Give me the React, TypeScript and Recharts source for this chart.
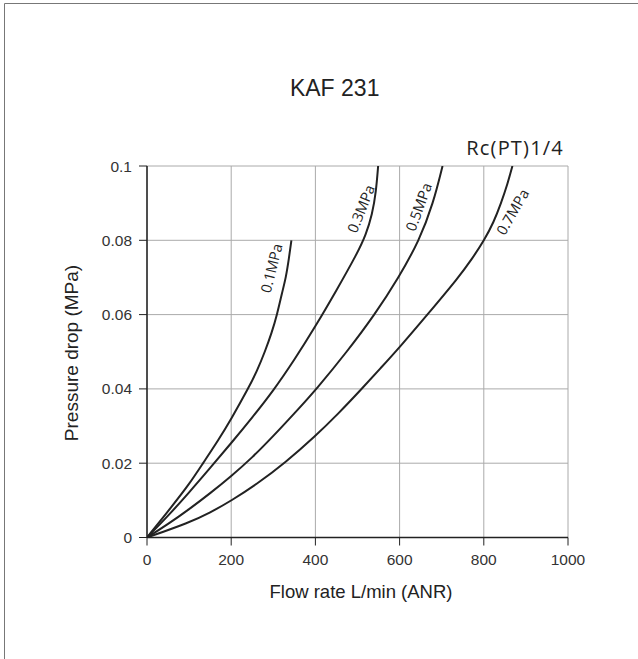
import React from 'react';
import { LineChart, Line, XAxis, YAxis, CartesianGrid, ReferenceDot } from 'recharts';

// Flow rate L/min (ANR) vs pressure drop (MPa), one curve per supply pressure
const flow01 = [0, 60, 100, 133, 170, 200, 240, 262, 280, 296, 309, 321, 330, 337, 343];
const drop01 = [0, 0.0085, 0.0143, 0.02, 0.0263, 0.0319, 0.04, 0.045, 0.05, 0.055, 0.06, 0.066, 0.07, 0.075, 0.08];

const flow03 = [0, 50, 100, 150, 200, 250, 300, 350, 400, 450, 500, 520, 535, 544, 549];
const drop03 = [0, 0.0058, 0.0121, 0.0187, 0.0254, 0.0323, 0.0395, 0.0478, 0.0568, 0.0665, 0.0766, 0.0815, 0.087, 0.093, 0.1];

const flow05 = [0, 50, 100, 150, 200, 250, 300, 350, 403, 475, 541, 598, 647, 680, 702];
const drop05 = [0, 0.0036, 0.0076, 0.0119, 0.0165, 0.0215, 0.0273, 0.0334, 0.04, 0.05, 0.06, 0.07, 0.08, 0.09, 0.1];

const flow07 = [0, 100, 150, 200, 260, 328, 400, 455, 510, 555, 600, 666, 740, 772, 801, 824, 841, 856, 868];
const drop07 = [0, 0.004, 0.0067, 0.0099, 0.0143, 0.0201, 0.0273, 0.0334, 0.04, 0.0456, 0.0512, 0.06, 0.07, 0.075, 0.08, 0.085, 0.09, 0.095, 0.1];

const xTicks = [0, 200, 400, 600, 800, 1000];
const yTicks = [0, 0.02, 0.04, 0.06, 0.08, 0.1];

const seriesNames = ['0.1MPa', '0.3MPa', '0.5MPa', '0.7MPa'];
// where each curve's name sits, in data units
const labelFlow = [295, 508, 645, 868];
const labelDrop = [0.0725, 0.0885, 0.089, 0.0877];
const labelAngle = [-76, -68, -70, -60];

const toPoints = (xs: number[], ys: number[]) => xs.map((x, i) => ({ flow: x, drop: ys[i] }));

const series = [
  toPoints(flow01, drop01),
  toPoints(flow03, drop03),
  toPoints(flow05, drop05),
  toPoints(flow07, drop07),
];

const sans = '"Liberation Sans", Arial, sans-serif';
const humanist = '"Open Sans", "Noto Sans", sans-serif';

const CurveName = (props: any) => {
  const { cx, cy, text, angle } = props;
  return (
    <text
      x={cx}
      y={cy}
      textAnchor="middle"
      dominantBaseline="central"
      transform={`rotate(${angle} ${cx} ${cy})`}
      fontFamily={humanist}
      fontSize={14.5}
      fill="#222"
    >
      {text}
    </text>
  );
};

const App: React.FC = () => {
  return (
    <div style={{ position: 'absolute', left: 0, top: 0, width: 638, height: 659, background: '#fff' }}>
      <LineChart
        width={638}
        height={659}
        margin={{ top: 166, right: 70, bottom: 61.5, left: 67 }}
      >
        <CartesianGrid stroke="#aaa" strokeWidth={1} />
        <XAxis
          type="number"
          dataKey="flow"
          domain={[0, 1000]}
          ticks={xTicks}
          height={60}
          tickSize={8}
          tickMargin={8}
          axisLine={{ stroke: '#222', strokeWidth: 1.5 }}
          tickLine={{ stroke: '#222' }}
          tick={{ fontSize: 15.5, fill: '#333', fontFamily: sans }}
          allowDataOverflow
        />
        <YAxis
          type="number"
          dataKey="drop"
          domain={[0, 0.1]}
          ticks={yTicks}
          width={80}
          tickSize={8}
          tickMargin={7}
          axisLine={{ stroke: '#222', strokeWidth: 1.5 }}
          tickLine={{ stroke: '#222' }}
          tick={{ fontSize: 15.5, fill: '#333', fontFamily: sans }}
          allowDataOverflow
        />
        {series.map((pts, i) => (
          <Line
            key={seriesNames[i]}
            data={pts}
            dataKey="drop"
            type="basis"
            stroke="#222"
            strokeWidth={2}
            dot={false}
            activeDot={false}
            isAnimationActive={false}
          />
        ))}
        {seriesNames.map((name, i) => (
          <ReferenceDot
            key={'lbl' + name}
            x={labelFlow[i]}
            y={labelDrop[i]}
            r={0}
            shape={(p: any) => <CurveName {...p} text={name} angle={labelAngle[i]} />}
          />
        ))}
      </LineChart>

      {/* frame, titles and axis names */}
      <svg
        width={638}
        height={659}
        style={{ position: 'absolute', left: 0, top: 0, pointerEvents: 'none' }}
      >
        <line x1={4.5} y1={3.5} x2={638} y2={3.5} stroke="#777" strokeWidth={1} />
        <line x1={4.5} y1={3.5} x2={4.5} y2={659} stroke="#777" strokeWidth={1} />
        <text x={334.7} y={96} textAnchor="middle" fontFamily={sans} fontSize={23} fill="#222">
          KAF 231
        </text>
        <text x={564} y={155} textAnchor="end" fontFamily={humanist} fontSize={20} letterSpacing={1.2} fill="#222">
          Rc(PT)1/4
        </text>
        <text x={361} y={598} textAnchor="middle" fontFamily={sans} fontSize={18.5} fill="#222">
          Flow rate L/min (ANR)
        </text>
        <text
          x={77.5}
          y={353}
          textAnchor="middle"
          transform="rotate(-90 77.5 353)"
          fontFamily={sans}
          fontSize={19}
          fill="#222"
        >
          Pressure drop (MPa)
        </text>
      </svg>
    </div>
  );
};

export default App;
